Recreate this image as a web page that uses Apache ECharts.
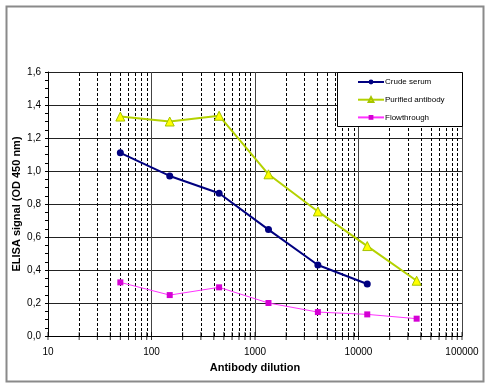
<!DOCTYPE html>
<html>
<head>
<meta charset="utf-8">
<script src="https://cdn.jsdelivr.net/npm/echarts@6/dist/echarts.min.js"></script>
<style>
html,body{margin:0;padding:0;background:#fff;}
#c{width:488px;height:384px;}
</style>
</head>
<body>
<div id="c"></div>
<script>
var dilutions = [50, 150, 450, 1350, 4050, 12150, 36450];
var crudeSerum = [1.11, 0.97, 0.865, 0.645, 0.43, 0.315];
var purifiedAntibody = [1.33, 1.30, 1.335, 0.98, 0.755, 0.545, 0.335];
var flowthrough = [0.325, 0.248, 0.295, 0.2, 0.145, 0.131, 0.105];
var seriesNames = ['Crude serum', 'Purified antibody', 'Flowthrough'];
var xTickLabels = ['10', '100', '1000', '10000', '100000'];
var yMin = 0, yMax = 1.6, yStep = 0.2;
var xMin = 10, xMax = 100000;

function pairs(xs, ys) { return ys.map(function (v, i) { return [xs[i], v]; }); }

// minor decade positions 2..9 x 10^k
var minorPos = [], allTickPos = [];
for (var d = xMin; d < xMax; d *= 10) {
  allTickPos.push(d);
  for (var m = 2; m <= 9; m++) { minorPos.push(m * d); allTickPos.push(m * d); }
}
allTickPos.push(xMax);

var chart = echarts.init(document.getElementById('c'), null, {renderer: 'canvas'});
var font = 'Liberation Sans, Arial, sans-serif';
chart.setOption({
  animation: false,
  backgroundColor: '#fff',
  graphic: [
    {type: 'rect', left: 4, top: 4, shape: {width: 477, height: 375},
     style: {fill: 'none', stroke: '#8a8a8a', lineWidth: 2}, z: -10},
    {type: 'rect', left: 337, top: 72, shape: {width: 125, height: 54},
     style: {fill: '#fff', stroke: '#000', lineWidth: 1}, z: 50}
  ],
  grid: {left: 48, right: 26, top: 72, bottom: 48, containLabel: false},
  legend: {
    data: seriesNames, orient: 'vertical', left: 357, top: 77, padding: 0,
    itemWidth: 26, itemHeight: 6, itemGap: 7.7, z: 60,
    textStyle: {fontFamily: font, fontSize: 8, color: '#000', lineHeight: 10, padding: [0, 0, 0, -4]}
  },
  xAxis: {
    type: 'log', logBase: 10, min: xMin, max: xMax,
    name: 'Antibody dilution', nameLocation: 'middle', nameGap: 26, nameMoveOverlap: false,
    nameTextStyle: {fontFamily: font, fontSize: 11, fontWeight: 'bold', color: '#000'},
    axisLine: {onZero: false, lineStyle: {color: '#000', width: 1}},
    axisTick: {show: false},
    axisLabel: {fontFamily: font, fontSize: 10, color: '#000', margin: 11,
      formatter: function (v) { var e = Math.round(Math.log10(v)) - 1; return xTickLabels[e] || String(Math.round(v)); }},
    splitLine: {show: true, lineStyle: {color: '#444', width: 1}}
  },
  yAxis: {
    type: 'value', min: yMin, max: yMax, interval: yStep,
    name: 'ELISA signal (OD 450 nm)', nameLocation: 'middle', nameGap: 26, nameMoveOverlap: false,
    nameTextStyle: {fontFamily: font, fontSize: 11, fontWeight: 'bold', color: '#000'},
    axisLine: {show: true, lineStyle: {color: '#000', width: 1}},
    axisTick: {show: true, inside: false, length: 3, lineStyle: {color: '#000'}},
    minorTick: {show: true, splitNumber: 4, length: 3, lineStyle: {color: '#000'}},
    axisLabel: {fontFamily: font, fontSize: 10, color: '#000', margin: 7,
      formatter: function (v) { return v.toFixed(1).replace('.', ','); }},
    splitLine: {show: true, lineStyle: {color: '#222', width: 1}}
  },
  series: [
    {
      name: 'minorGrid', type: 'line', data: [], silent: true, z: 1,
      markLine: {
        silent: true, symbol: ['none', 'none'], label: {show: false},
        lineStyle: {color: '#000', type: [3, 2], width: 1},
        data: minorPos.map(function (v) { return {xAxis: v}; }),
        animation: false
      }
    },
    {
      name: 'xTicks', type: 'scatter', silent: true, clip: false, z: 3,
      symbol: 'rect', symbolSize: [1, 8], itemStyle: {color: '#000'},
      data: allTickPos.map(function (v) { return [v, 0]; })
    },
    {
      name: seriesNames[0], type: 'line', data: pairs(dilutions, crudeSerum), z: 10,
      symbol: 'circle', symbolSize: 7,
      lineStyle: {color: '#000080', width: 2}, itemStyle: {color: '#000080'}
    },
    {
      name: seriesNames[1], type: 'line', data: pairs(dilutions, purifiedAntibody), z: 9,
      symbol: 'triangle', symbolSize: 9,
      lineStyle: {color: '#b4d200', width: 2},
      itemStyle: {color: '#ffff00', borderColor: '#a6c400', borderWidth: 1}
    },
    {
      name: seriesNames[2], type: 'line', data: pairs(dilutions, flowthrough), z: 8,
      symbol: 'rect', symbolSize: 6,
      lineStyle: {color: '#ff33ff', width: 1}, itemStyle: {color: '#d400d4'}
    }
  ]
});
</script>
</body>
</html>
